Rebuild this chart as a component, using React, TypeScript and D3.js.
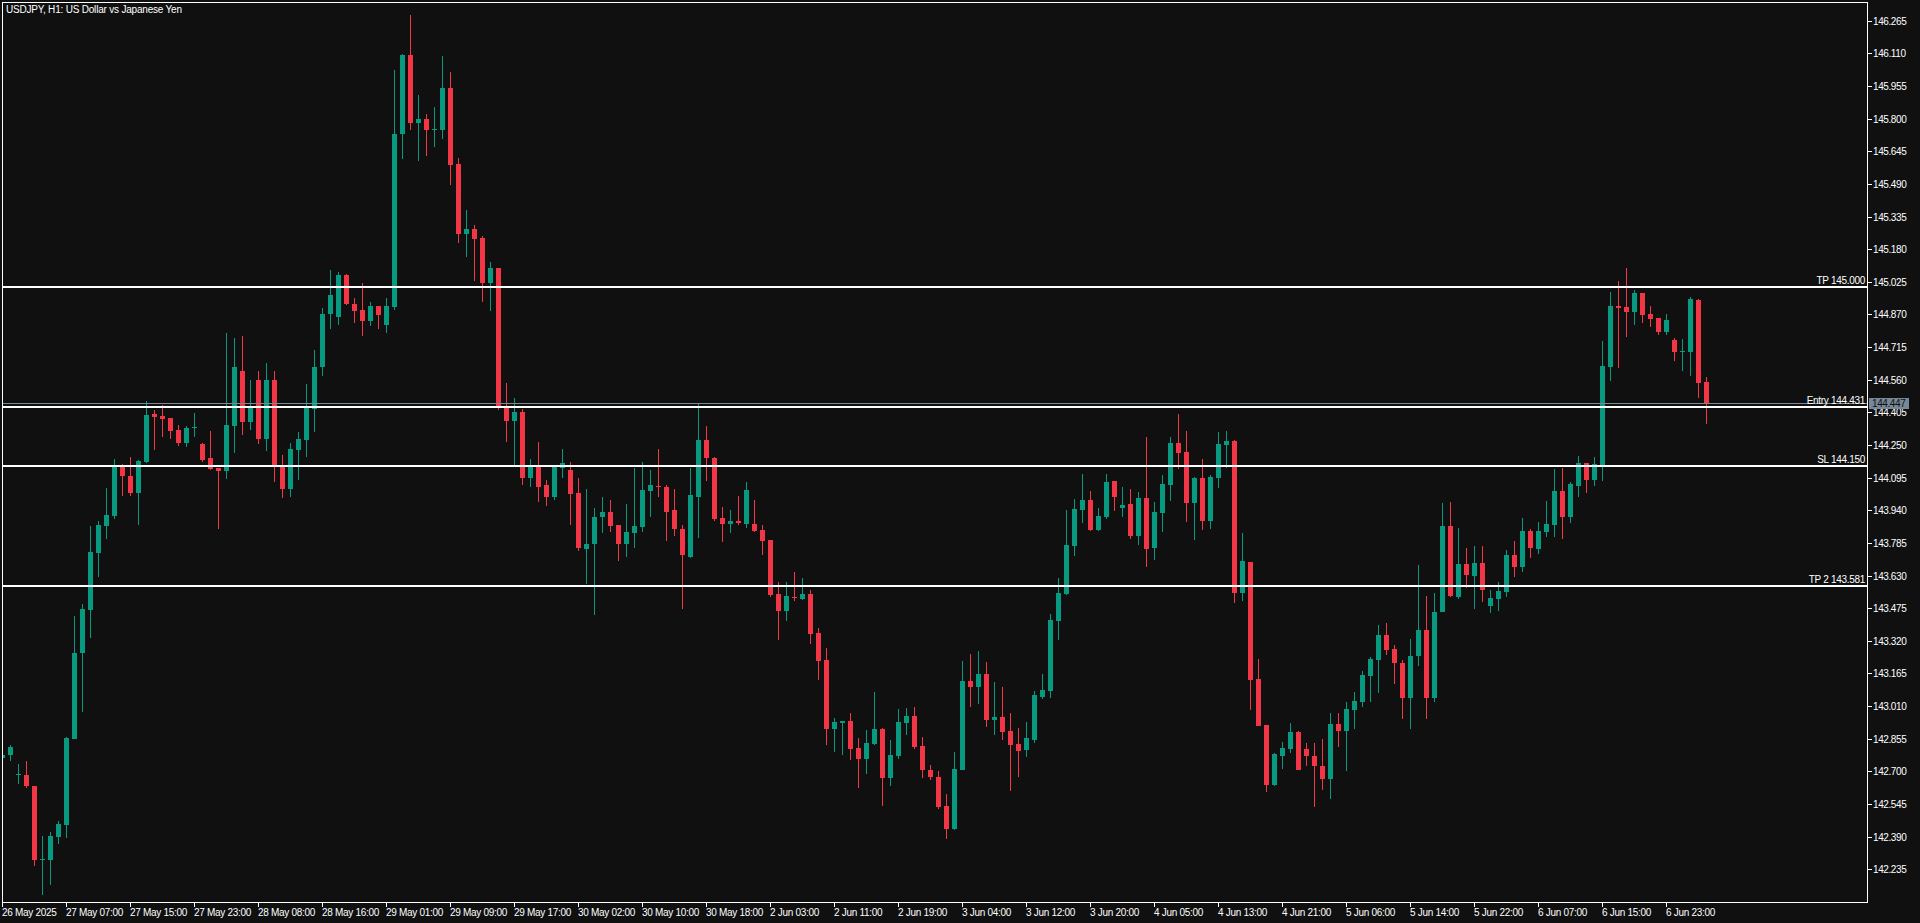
import { useEffect, useRef } from "react";
import * as d3 from "d3";

// candle data, USDJPY H1, one entry per bar
const opens = [
  142.764, 142.776, 142.681, 142.685, 142.632, 142.281, 142.281, 142.387, 142.447, 142.856,
  143.264, 143.468, 143.739, 143.867, 143.915, 144.152, 144.105, 144.024, 144.171, 144.399,
  144.390, 144.380, 144.323, 144.261, 144.333, 144.257, 144.190, 144.143, 144.128, 144.342,
  144.600, 144.361, 144.560, 144.280, 144.560, 144.152, 144.043, 144.228, 144.276, 144.423,
  144.620, 144.870, 144.860, 145.055, 144.921, 144.893, 144.841, 144.912, 144.822, 144.903,
  145.725, 146.104, 145.781, 145.800, 145.751, 145.747, 145.946, 145.586, 145.254, 145.278,
  145.231, 145.021, 145.092, 144.431, 144.366, 144.409, 144.095, 144.148, 144.058, 144.002,
  144.139, 144.129, 144.020, 143.754, 143.778, 143.906, 143.934, 143.868, 143.778, 143.831,
  143.859, 144.030, 144.056, 144.052, 143.940, 143.853, 143.720, 144.005, 144.276, 144.190,
  143.905, 143.877, 143.889, 143.877, 143.877, 143.848, 143.801, 143.544, 143.463, 143.530,
  143.520, 143.544, 143.359, 143.231, 142.903, 142.932, 142.941, 142.813, 142.761, 142.832,
  142.903, 142.670, 142.775, 142.932, 142.965, 142.822, 142.708, 142.675, 142.537, 142.428,
  142.708, 143.131, 143.103, 143.164, 142.946, 142.960, 142.894, 142.832, 142.803, 142.851,
  143.055, 143.083, 143.415, 143.544, 143.772, 143.943, 143.990, 143.848, 143.909, 144.080,
  143.952, 143.971, 143.819, 144.000, 143.762, 143.928, 144.061, 144.261, 144.218, 143.976,
  144.095, 143.890, 144.095, 144.251, 144.270, 143.548, 143.696, 143.140, 142.922, 142.637,
  142.774, 142.808, 142.888, 142.808, 142.774, 142.727, 142.665, 142.926, 142.893, 142.993,
  143.031, 143.154, 143.230, 143.349, 143.282, 143.216, 143.050, 143.250, 143.373, 143.050,
  143.455, 143.867, 143.529, 143.686, 143.629, 143.691, 143.487, 143.520, 143.553, 143.729,
  143.672, 143.843, 143.757, 143.838, 143.871, 144.033, 143.910, 144.057, 144.166, 144.085,
  144.156, 144.622, 144.912, 144.907, 144.883, 144.973, 144.874, 144.855, 144.788, 144.750,
  144.695, 144.693, 144.940, 144.551,
];
const highs = [
  142.785, 142.827, 142.737, 142.751, 142.632, 142.392, 142.414, 142.466, 142.865, 143.440,
  143.497, 143.867, 143.891, 144.048, 144.185, 144.160, 144.195, 144.181, 144.461, 144.418,
  144.442, 144.380, 144.347, 144.342, 144.404, 144.261, 144.318, 144.143, 144.780, 144.760,
  144.770, 144.560, 144.600, 144.640, 144.600, 144.204, 144.261, 144.314, 144.540, 144.700,
  144.900, 145.080, 145.070, 145.060, 144.950, 145.017, 144.929, 144.912, 144.946, 146.033,
  146.108, 146.294, 145.914, 145.822, 145.856, 146.098, 146.023, 145.614, 145.368, 145.295,
  145.241, 145.120, 145.092, 144.546, 144.471, 144.422, 144.182, 144.262, 144.082, 144.152,
  144.233, 144.167, 144.095, 144.043, 143.949, 144.002, 143.990, 143.868, 143.972, 144.142,
  144.167, 144.129, 144.229, 144.062, 144.039, 143.868, 144.142, 144.450, 144.338, 144.195,
  143.957, 143.943, 144.010, 144.076, 143.991, 143.872, 143.801, 143.601, 143.601, 143.649,
  143.620, 143.563, 143.383, 143.288, 142.955, 142.941, 142.979, 142.860, 142.898, 143.079,
  142.908, 142.851, 142.998, 143.003, 143.008, 142.865, 142.732, 142.704, 142.594, 142.794,
  143.226, 143.259, 143.273, 143.221, 143.126, 143.103, 142.979, 142.908, 142.936, 143.084,
  143.164, 143.449, 143.620, 143.943, 143.995, 144.114, 144.033, 143.952, 144.114, 144.080,
  144.052, 144.042, 144.028, 144.289, 143.981, 144.109, 144.289, 144.399, 144.318, 144.099,
  144.185, 144.109, 144.313, 144.318, 144.275, 143.833, 143.696, 143.235, 142.922, 142.789,
  142.841, 142.931, 142.893, 142.836, 142.836, 142.855, 142.979, 142.979, 143.031, 143.078,
  143.178, 143.244, 143.396, 143.406, 143.302, 143.230, 143.330, 143.681, 143.534, 143.548,
  143.976, 143.981, 143.857, 143.762, 143.772, 143.772, 143.563, 143.601, 143.753, 143.795,
  143.905, 143.853, 143.886, 143.985, 144.137, 144.142, 144.076, 144.199, 144.166, 144.194,
  144.745, 144.978, 145.030, 145.092, 144.987, 144.973, 144.912, 144.855, 144.874, 144.760,
  144.755, 144.954, 144.945, 144.574,
];
const lows = [
  142.760, 142.748, 142.642, 142.620, 142.249, 142.115, 142.162, 142.357, 142.385, 142.856,
  142.981, 143.332, 143.622, 143.805, 143.900, 144.010, 144.010, 143.872, 144.166, 144.228,
  144.290, 144.280, 144.247, 144.242, 144.290, 144.171, 144.133, 143.853, 144.090, 144.214,
  144.299, 144.320, 144.257, 144.223, 144.076, 144.000, 144.005, 144.086, 144.195, 144.314,
  144.580, 144.800, 144.820, 144.914, 144.831, 144.766, 144.813, 144.803, 144.784, 144.893,
  145.610, 145.744, 145.601, 145.624, 145.667, 145.704, 145.483, 145.207, 145.141, 145.030,
  144.927, 144.884, 144.416, 144.266, 144.155, 144.060, 144.050, 143.981, 143.962, 143.989,
  144.092, 143.872, 143.746, 143.590, 143.444, 143.831, 143.835, 143.697, 143.716, 143.763,
  143.835, 143.906, 144.005, 143.793, 143.816, 143.470, 143.711, 143.806, 144.077, 143.888,
  143.791, 143.834, 143.872, 143.858, 143.839, 143.729, 143.530, 143.326, 143.416, 143.511,
  143.516, 143.307, 143.136, 142.827, 142.794, 142.780, 142.756, 142.623, 142.689, 142.827,
  142.537, 142.632, 142.761, 142.875, 142.808, 142.670, 142.661, 142.523, 142.381, 142.423,
  142.708, 143.008, 143.022, 142.913, 142.875, 142.851, 142.609, 142.675, 142.770, 142.837,
  143.046, 143.050, 143.325, 143.539, 143.724, 143.881, 143.843, 143.843, 143.900, 143.938,
  143.909, 143.805, 143.776, 143.672, 143.705, 143.838, 143.985, 144.137, 143.886, 143.800,
  143.848, 143.852, 144.047, 144.142, 143.501, 143.510, 142.993, 142.917, 142.603, 142.632,
  142.713, 142.789, 142.708, 142.727, 142.532, 142.613, 142.570, 142.817, 142.703, 142.903,
  143.007, 143.031, 143.073, 143.254, 143.116, 142.950, 142.900, 143.200, 142.950, 143.030,
  143.455, 143.526, 143.520, 143.572, 143.473, 143.506, 143.454, 143.463, 143.529, 143.625,
  143.648, 143.715, 143.734, 143.814, 143.814, 143.805, 143.881, 144.004, 144.023, 144.057,
  144.080, 144.555, 144.617, 144.764, 144.821, 144.831, 144.812, 144.774, 144.774, 144.650,
  144.603, 144.579, 144.475, 144.351,
];
const closes = [
  142.780, 142.816, 142.689, 142.629, 142.281, 142.286, 142.392, 142.452, 142.860, 143.262,
  143.473, 143.744, 143.872, 143.919, 144.152, 144.101, 144.024, 144.176, 144.394, 144.385,
  144.375, 144.318, 144.261, 144.333, 144.335, 144.181, 144.138, 144.128, 144.347, 144.620,
  144.361, 144.431, 144.280, 144.560, 144.157, 144.043, 144.233, 144.280, 144.428, 144.620,
  144.870, 144.960, 145.055, 144.920, 144.888, 144.841, 144.912, 144.869, 144.908, 145.725,
  146.104, 145.781, 145.800, 145.744, 145.753, 145.946, 145.582, 145.254, 145.278, 145.226,
  145.017, 145.092, 144.435, 144.366, 144.409, 144.095, 144.148, 144.052, 144.002, 144.152,
  144.163, 144.015, 143.759, 143.782, 143.910, 143.934, 143.863, 143.778, 143.835, 143.863,
  144.034, 144.058, 144.053, 143.934, 143.850, 143.726, 144.011, 144.276, 144.186, 143.900,
  143.877, 143.891, 143.881, 144.038, 143.843, 143.796, 143.539, 143.463, 143.535, 143.525,
  143.544, 143.354, 143.226, 142.903, 142.936, 142.941, 142.808, 142.761, 142.837, 142.903,
  142.670, 142.780, 142.936, 142.965, 142.818, 142.708, 142.675, 142.533, 142.428, 142.713,
  143.131, 143.103, 143.164, 142.946, 142.960, 142.889, 142.827, 142.799, 142.860, 143.065,
  143.088, 143.420, 143.548, 143.776, 143.947, 143.990, 143.848, 143.914, 144.076, 144.004,
  143.966, 143.819, 144.000, 143.757, 143.933, 144.066, 144.261, 144.213, 143.976, 144.095,
  143.890, 144.099, 144.256, 144.270, 143.548, 143.700, 143.135, 142.917, 142.637, 142.784,
  142.812, 142.888, 142.708, 142.774, 142.727, 142.665, 142.926, 142.893, 142.997, 143.036,
  143.159, 143.235, 143.349, 143.278, 143.216, 143.050, 143.250, 143.373, 143.050, 143.458,
  143.867, 143.534, 143.686, 143.634, 143.691, 143.563, 143.525, 143.558, 143.729, 143.672,
  143.843, 143.762, 143.843, 143.876, 144.033, 143.910, 144.066, 144.166, 144.085, 144.161,
  144.627, 144.912, 144.902, 144.883, 144.973, 144.869, 144.850, 144.788, 144.845, 144.693,
  144.698, 144.945, 144.546, 144.446,
];

// time axis: bar index of each label
const timeTickBars = [
  0, 8, 16, 24, 32, 40, 48, 56, 64, 72, 80, 88, 96, 104, 112, 120, 128, 136, 144, 152, 160,
  168, 176, 184, 192, 200, 208,
];
const timeTickLabels = [
  "26 May 2025", "27 May 07:00", "27 May 15:00", "27 May 23:00", "28 May 08:00",
  "28 May 16:00", "29 May 01:00", "29 May 09:00", "29 May 17:00", "30 May 02:00",
  "30 May 10:00", "30 May 18:00", "2 Jun 03:00", "2 Jun 11:00", "2 Jun 19:00",
  "3 Jun 04:00", "3 Jun 12:00", "3 Jun 20:00", "4 Jun 05:00", "4 Jun 13:00",
  "4 Jun 21:00", "5 Jun 06:00", "5 Jun 14:00", "5 Jun 22:00", "6 Jun 07:00",
  "6 Jun 15:00", "6 Jun 23:00",
];

const priceTicks = [
  146.265, 146.11, 145.955, 145.8, 145.645, 145.49, 145.335, 145.18, 145.025, 144.87,
  144.715, 144.56, 144.405, 144.25, 144.095, 143.94, 143.785, 143.63, 143.475, 143.32,
  143.165, 143.01, 142.855, 142.7, 142.545, 142.39, 142.235,
];

// trade levels
const levelNames = ["TP", "Entry", "SL", "TP 2"];
const levelValues = [145.0, 144.431, 144.15, 143.581];
const bidPrice = 144.447;

const title = "USDJPY, H1:  US Dollar vs Japanese Yen";

export default function App() {
  const ref = useRef<SVGSVGElement>(null);

  useEffect(() => {
    if (!ref.current) return;
    document.body.style.margin = "0";
    document.body.style.background = "#101010";

    const svg = d3.select(ref.current);
    svg.selectAll("*").remove();

    const W = 1920;
    const H = 923;
    const m = { left: 2.5, top: 2.5, right: 1867.5, bottom: 902.5 };
    const font = "'Liberation Sans', Arial, sans-serif";
    const green = "#089981";
    const red = "#f23645";

    const x = d3.scaleLinear().domain([0, 1]).range([2.3, 10.3]);
    const y = d3.scaleLinear().domain([146.265, 142.235]).range([20.7, 869.3]);

    svg.append("rect").attr("width", W).attr("height", H).attr("fill", "#101010");

    svg
      .append("defs")
      .append("clipPath")
      .attr("id", "plot")
      .append("rect")
      .attr("x", 3)
      .attr("y", 3)
      .attr("width", m.right - 3.5)
      .attr("height", m.bottom - 3.5);

    const plot = svg.append("g").attr("clip-path", "url(#plot)");

    const bars = d3.range(opens.length);

    // candles
    const candle = plot
      .selectAll("g.c")
      .data(bars)
      .join("g")
      .attr("class", "c")
      .attr("fill", (i) => (closes[i] >= opens[i] ? green : red))
      .attr("shape-rendering", "crispEdges");

    candle
      .append("rect")
      .attr("x", (i) => Math.floor(x(i)))
      .attr("width", 1)
      .attr("y", (i) => Math.round(y(highs[i])))
      .attr("height", (i) => Math.max(1, Math.round(y(lows[i])) - Math.round(y(highs[i]))));

    candle
      .append("rect")
      .attr("x", (i) => Math.floor(x(i)) - 2)
      .attr("width", 5)
      .attr("y", (i) => Math.round(y(Math.max(opens[i], closes[i]))))
      .attr("height", (i) =>
        Math.max(
          1,
          Math.round(y(Math.min(opens[i], closes[i]))) -
            Math.round(y(Math.max(opens[i], closes[i]))),
        ),
      );

    // bid line
    const bidY = Math.floor(y(bidPrice)) + 0.5;
    plot
      .append("line")
      .attr("x1", 3)
      .attr("x2", m.right)
      .attr("y1", bidY)
      .attr("y2", bidY)
      .attr("stroke", "#778899")
      .attr("stroke-width", 1);

    // trade levels
    levelValues.forEach((v, k) => {
      const ly = Math.round(y(v));
      svg
        .append("line")
        .attr("x1", 3)
        .attr("x2", m.right)
        .attr("y1", ly)
        .attr("y2", ly)
        .attr("stroke", "#ffffff")
        .attr("stroke-width", 2)
        .attr("shape-rendering", "crispEdges");
      svg
        .append("text")
        .attr("x", 1865)
        .attr("y", ly - 3)
        .attr("text-anchor", "end")
        .attr("font-family", font)
        .attr("font-size", 10)
        .attr("letter-spacing", -0.3)
        .attr("fill", "#ffffff")
        .text(`${levelNames[k]} ${v.toFixed(3)}`);
    });

    // frame
    svg
      .append("rect")
      .attr("x", m.left)
      .attr("y", m.top)
      .attr("width", m.right - m.left)
      .attr("height", m.bottom - m.top)
      .attr("fill", "none")
      .attr("stroke", "#ffffff")
      .attr("stroke-width", 1);

    // price axis
    const pa = svg.append("g");
    priceTicks.forEach((t) => {
      const ty = Math.round(y(t)) + 0.5;
      pa.append("line")
        .attr("x1", m.right)
        .attr("x2", 1872)
        .attr("y1", ty)
        .attr("y2", ty)
        .attr("stroke", "#ffffff");
      pa.append("text")
        .attr("x", 1873)
        .attr("y", ty + 3.5)
        .attr("font-family", font)
        .attr("font-size", 10)
        .attr("letter-spacing", -0.4)
        .attr("fill", "#ffffff")
        .text(t.toFixed(3));
    });

    // current price tag
    svg
      .append("rect")
      .attr("x", 1869)
      .attr("y", bidY - 5.5)
      .attr("width", 40)
      .attr("height", 11)
      .attr("fill", "#778899");
    svg
      .append("text")
      .attr("x", 1872)
      .attr("y", bidY + 3.5)
      .attr("font-family", font)
      .attr("font-size", 10)
      .attr("letter-spacing", -0.4)
      .attr("fill", "#101010")
      .text(bidPrice.toFixed(3));

    // time axis
    const ta = svg.append("g");
    timeTickBars.forEach((b, k) => {
      const tx = Math.floor(x(b)) + 0.5;
      ta.append("line")
        .attr("x1", tx)
        .attr("x2", tx)
        .attr("y1", m.bottom)
        .attr("y2", 907)
        .attr("stroke", "#ffffff");
      ta.append("text")
        .attr("x", tx - 0.5)
        .attr("y", 916)
        .attr("font-family", font)
        .attr("font-size", 10)
        .attr("letter-spacing", -0.3)
        .attr("fill", "#ffffff")
        .text(timeTickLabels[k]);
    });

    // title
    svg
      .append("text")
      .attr("x", 6)
      .attr("y", 13)
      .attr("font-family", font)
      .attr("font-size", 10)
      .attr("letter-spacing", -0.2)
      .attr("fill", "#ffffff")
      .text(title);
  }, []);

  return <svg ref={ref} width={1920} height={923} style={{ display: "block" }} />;
}
